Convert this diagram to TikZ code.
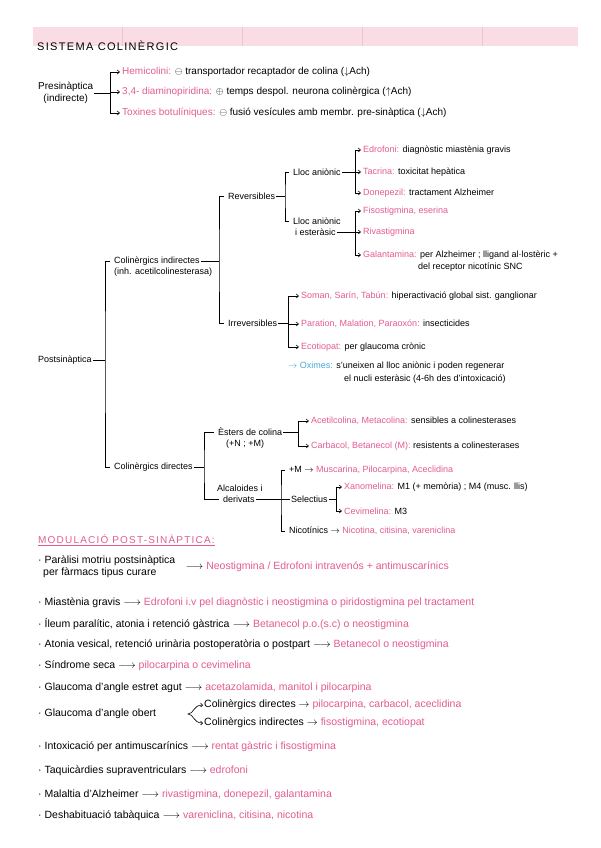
\documentclass[tikz,border=0pt]{standalone}
\usepackage{fontspec}
\setmainfont{Liberation Sans}
\newfontfamily\capsfont[LetterSpace=12]{Liberation Sans}
\usetikzlibrary{arrows.meta,positioning}
\definecolor{pinkink}{RGB}{228,92,146}
\definecolor{bluink}{RGB}{72,168,218}
\definecolor{bandpink}{RGB}{250,220,229}
\definecolor{bandline}{RGB}{236,196,210}
\newcommand{\pk}[1]{\textcolor{pinkink}{#1}}
\tikzset{
  txt/.style={anchor=west,inner sep=1pt,align=left,font=\fontsize{9}{10.5}\selectfont},
  ptxt/.style={txt,text=pinkink},
  ltxt/.style={txt,font=\fontsize{10}{11.5}\selectfont},
  btxt/.style={txt,font=\fontsize{10.5}{12}\selectfont},
  hdr/.style={anchor=west,inner sep=0pt,font=\capsfont\fontsize{11}{13}\selectfont},
  ln/.style={line width=0.6pt},
  brk/.style={ln,shorten <=3pt,shorten >=3pt},
  arr/.style={ln,-{Straight Barb[length=2.4pt,width=4pt]},shorten >=1pt}
}
\begin{document}
\begin{tikzpicture}[x=1pt,y=-1pt]
  \useasboundingbox[fill=white] (0,0) rectangle (600,848);
  \fill[bandpink] (33,27) rectangle (578,46);
  \foreach \x in {122,242,362,482} \draw[bandline,line width=0.4pt] (\x,27) -- (\x,46);
  \node[hdr] (title) at (37,46) {SISTEMA COLINÈRGIC};

  \node[ltxt,align=center] (pre) at (37,93) {Presinàptica\\(indirecte)};
  \coordinate (prej) at (110,93);
  \node[ltxt] (hemi) at (121,72) {\pk{Hemicolini:} $\ominus$ transportador recaptador de colina ($\downarrow$Ach)};
  \node[ltxt] (diam) at (121,92) {\pk{3,4- diaminopiridina:} $\oplus$ temps despol. neurona colinèrgica ($\uparrow$Ach)};
  \node[ltxt] (toxb) at (121,113) {\pk{Toxines botulíniques:} $\ominus$ fusió vesícules amb membr. pre-sinàptica ($\downarrow$Ach)};
  \draw[ln] (pre.east) -- (prej);
  \draw[ln] (prej |- hemi.west) -- (prej |- toxb.west);
  \foreach \n in {hemi,diam,toxb} \draw[arr] (prej |- \n.west) -- (\n.west);

  \node[txt] (post) at (37,360) {Postsinàptica};
  \coordinate (postj) at (105,360);
  \node[txt] (cind) at (113,261) {Colinèrgics indirectes};
  \node[txt] (cinds) at (113,272) {(inh. acetilcolinesterasa)};
  \node[txt] (cdir) at (113,467) {Colinèrgics directes};
  \draw[ln] (post.east) -- (postj);
  \draw[brk] (cind.west) -| (postj) |- (cdir.west);

  \coordinate (cindj) at (219,261);
  \node[txt] (rev) at (227,196) {Reversibles};
  \node[txt] (irr) at (227,323) {Irreversibles};
  \draw[ln] (cind.east) -- (cindj);
  \draw[brk] (rev.west) -| (cindj) |- (irr.west);

  \coordinate (revj) at (285,196);
  \node[txt] (lan) at (292,172) {Lloc aniònic};
  \node[txt] (lae) at (292,221) {Lloc aniònic};
  \node[txt] (lae2) at (294,232) {i esteràsic};
  \draw[ln] (rev.east) -- (revj);
  \draw[brk] (lan.west) -| (revj) |- (lae.west);

  \coordinate (lanj) at (355,172);
  \node[txt] (edro) at (362,150) {\pk{Edrofoni:} diagnòstic miastènia gravis};
  \node[txt] (tacr) at (362,172) {\pk{Tacrina:} toxicitat hepàtica};
  \node[txt] (done) at (362,193) {\pk{Donepezil:} tractament Alzheimer};
  \draw[ln] (lan.east) -- (lanj);
  \draw[ln] (lanj |- edro.west) -- (lanj |- done.west);
  \foreach \n in {edro,tacr,done} \draw[arr] (lanj |- \n.west) -- (\n.west);

  \coordinate (laej) at (355,232);
  \node[ptxt] (fiso) at (362,211) {Fisostigmina, eserina};
  \node[ptxt] (riva) at (362,232) {Rivastigmina};
  \node[txt] (gala) at (362,255) {\pk{Galantamina:} per Alzheimer ; lligand al·lostèric +};
  \node[txt] (gala2) at (417,267) {del receptor nicotínic SNC};
  \draw[ln] (lae2.east) -- (laej);
  \draw[ln] (laej |- fiso.west) -- (laej |- gala.west);
  \foreach \n in {fiso,riva,gala} \draw[arr] (laej |- \n.west) -- (\n.west);

  \coordinate (irrj) at (288,323);
  \node[txt] (soman) at (300,296) {\pk{Soman, Sarín, Tabún:} hiperactivació global sist. ganglionar};
  \node[txt] (parat) at (300,324) {\pk{Paration, Malation, Paraoxón:} insecticides};
  \node[txt] (ecot) at (300,347) {\pk{Ecotiopat:} per glaucoma crònic};
  \draw[ln] (irr.east) -- (irrj);
  \draw[ln] (irrj |- soman.west) -- (irrj |- ecot.west);
  \foreach \n in {soman,parat,ecot} \draw[arr] (irrj |- \n.west) -- (\n.west);
  \node[txt] (oxim) at (287,366) {\textcolor{bluink}{$\rightarrow$ Oximes:} s'uneixen al lloc aniònic i poden regenerar};
  \node[txt] (oxim2) at (343,379) {el nucli esteràsic (4-6h des d'intoxicació)};

  \coordinate (cdirj) at (204,467);
  \node[txt] (ester) at (217,432) {Èsters de colina};
  \node[txt] (ester2) at (225,444) {(+N ; +M)};
  \node[txt] (alca) at (216,488) {Alcaloides i};
  \node[txt] (alca2) at (222,499) {derivats};
  \draw[ln] (cdir.east) -- (cdirj);
  \draw[brk] (ester.west) -| (cdirj) |- (alca2.west);

  \coordinate (esterj) at (298,432);
  \node[txt] (acet) at (310,421) {\pk{Acetilcolina, Metacolina:} sensibles a colinesterases};
  \node[txt] (carb) at (310,446) {\pk{Carbacol, Betanecol (M):} resistents a colinesterases};
  \draw[ln] (ester.east) -- (esterj);
  \draw[ln] (esterj |- acet.west) -- (esterj |- carb.west);
  \foreach \n in {acet,carb} \draw[arr] (esterj |- \n.west) -- (\n.west);

  \coordinate (alcaj) at (281,499);
  \node[txt] (mus) at (288,470) {+M $\rightarrow$ \pk{Muscarina, Pilocarpina, Aceclidina}};
  \node[txt] (sel) at (290,499) {Selectius};
  \node[txt] (nic) at (288,531) {Nicotínics $\rightarrow$ \pk{Nicotina, citisina, vareniclina}};
  \draw[ln] (alca2.east) -- (sel.west);
  \draw[brk] (mus.west) -| (alcaj) |- (nic.west);

  \coordinate (selj) at (336,499);
  \node[txt] (xano) at (343,487) {\pk{Xanomelina:} M1 (+ memòria) ; M4 (musc. llis)};
  \node[txt] (cevi) at (343,511) {\pk{Cevimelina:} M3};
  \draw[ln] (sel.east) -- (selj);
  \draw[ln] (selj |- xano.west) -- (selj |- cevi.west);
  \foreach \n in {xano,cevi} \draw[arr] (selj |- \n.west) -- (\n.west);

  \node[hdr,text=pinkink,font=\capsfont\fontsize{10}{12}\selectfont] (modu) at (38,539) {MODULACIÓ POST-SINÀPTICA:};
  \draw[ln,pinkink] ([yshift=-2pt]modu.south west) -- ([yshift=-2pt]modu.south east);

  \node[btxt] (b1) at (37,567) {· Paràlisi motriu postsinàptica\\\hspace{5pt}per fàrmacs tipus curare};
  \node[btxt,right=8pt of b1] (b1r) {$\longrightarrow$\ \pk{Neostigmina / Edrofoni intravenós + antimuscarínics}};
  \node[btxt] (b2) at (37,603) {· Miastènia gravis $\longrightarrow$ \pk{Edrofoni i.v pel diagnòstic i neostigmina o piridostigmina pel tractament}};
  \node[btxt] (b3) at (37,624) {· Íleum paralític, atonia i retenció gàstrica $\longrightarrow$ \pk{Betanecol p.o.(s.c) o neostigmina}};
  \node[btxt] (b4) at (37,645) {· Atonia vesical, retenció urinària postoperatòria o postpart $\longrightarrow$ \pk{Betanecol o neostigmina}};
  \node[btxt] (b5) at (37,666) {· Síndrome seca $\longrightarrow$ \pk{pilocarpina o cevimelina}};
  \node[btxt] (b6) at (37,688) {· Glaucoma d'angle estret agut $\longrightarrow$ \pk{acetazolamida, manitol i pilocarpina}};
  \node[btxt] (b7) at (37,714) {· Glaucoma d'angle obert};
  \node[btxt] (gdir) at (203,705) {Colinèrgics directes $\rightarrow$ \pk{pilocarpina, carbacol, aceclidina}};
  \node[btxt] (gind) at (203,723) {Colinèrgics indirectes $\rightarrow$ \pk{fisostigmina, ecotiopat}};
  \coordinate (gbr) at (188,714);
  \draw[ln,{Straight Barb[length=2pt]}-{Straight Barb[length=2pt]}] (gdir.west) .. controls (193,705) and (194,714) .. (gbr) .. controls (194,714) and (193,723) .. (gind.west);
  \node[btxt] (b8) at (37,747) {· Intoxicació per antimuscarínics $\longrightarrow$ \pk{rentat gàstric i fisostigmina}};
  \node[btxt] (b9) at (37,771) {· Taquicàrdies supraventriculars $\longrightarrow$ \pk{edrofoni}};
  \node[btxt] (b10) at (37,795) {· Malaltia d'Alzheimer $\longrightarrow$ \pk{rivastigmina, donepezil, galantamina}};
  \node[btxt] (b11) at (37,816) {· Deshabituació tabàquica $\longrightarrow$ \pk{vareniclina, citisina, nicotina}};
\end{tikzpicture}
\end{document}
